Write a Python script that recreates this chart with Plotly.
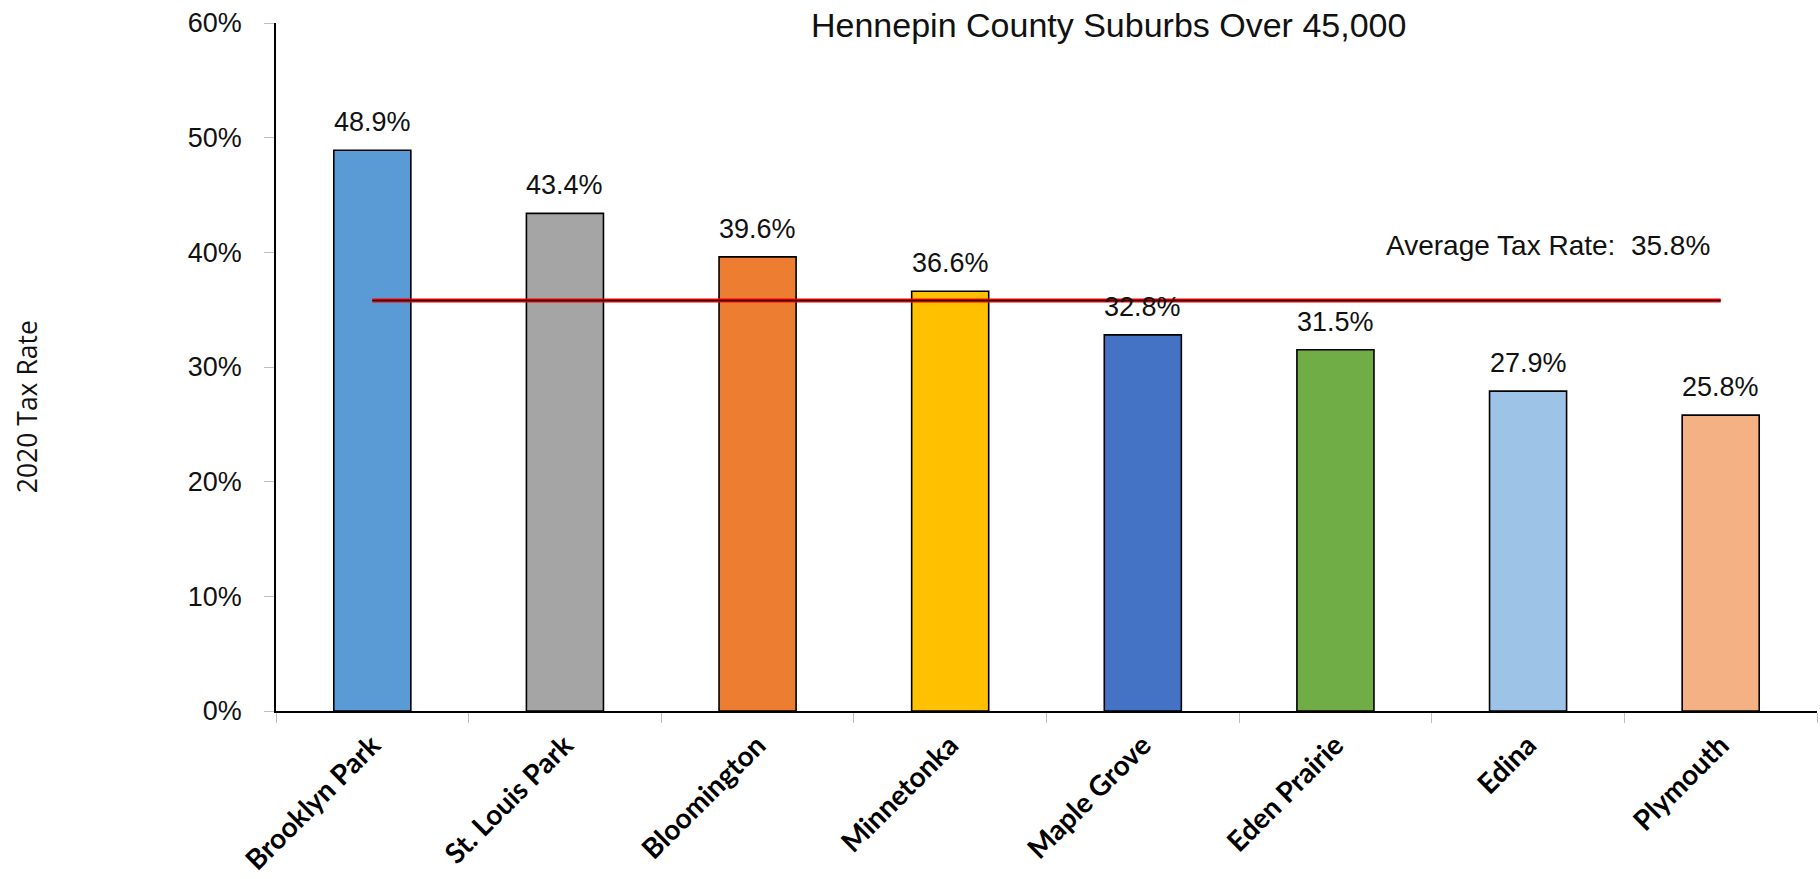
import plotly.graph_objects as go

cities = ["Brooklyn Park", "St. Louis Park", "Bloomington", "Minnetonka",
          "Maple Grove", "Eden Prairie", "Edina", "Plymouth"]
tax_rates = [48.9, 43.4, 39.6, 36.6, 32.8, 31.5, 27.9, 25.8]
bar_colors = ["#5B9BD5", "#A5A5A5", "#ED7D31", "#FFC000",
              "#4472C4", "#70AD47", "#9DC3E6", "#F4B183"]
average_rate = 35.8
y_ticks = [0, 10, 20, 30, 40, 50, 60]
y_tick_labels = ["0%", "10%", "20%", "30%", "40%", "50%", "60%"]

title_text = "Hennepin County Suburbs Over 45,000"
y_title = "2020 Tax Rate"
avg_label = "Average Tax Rate: \u00a035.8%"

FONT = "Liberation Sans"

fig = go.Figure()
fig.add_trace(go.Bar(
    x=cities, y=tax_rates,
    marker=dict(color=bar_colors, line=dict(color="black", width=1.6)),
    width=0.4, showlegend=False, hoverinfo="x+y",
))
# average line: red outer, dark core
fig.add_trace(go.Scatter(
    x=cities, y=[average_rate] * len(cities), mode="lines",
    line=dict(color="#FF0000", width=4), showlegend=False, hoverinfo="skip",
))
fig.add_trace(go.Scatter(
    x=cities, y=[average_rate] * len(cities), mode="lines",
    line=dict(color="#1a0000", width=1.6), showlegend=False, hoverinfo="skip",
))

annotations = []
for c, v in zip(cities, tax_rates):
    annotations.append(dict(
        x=c, y=v, xref="x", yref="y", text=f"{v:.1f}%", showarrow=False,
        yanchor="middle", yshift=28, font=dict(family=FONT, size=27, color="#111111"),
    ))
annotations.append(dict(
    x=5.25, y=40.6, xref="x", yref="y", text=avg_label, showarrow=False,
    xanchor="left", yanchor="middle", font=dict(family=FONT, size=28, color="#111111"),
))
annotations.append(dict(
    x=-0.1616, y=0.443, xref="paper", yref="paper", text=y_title, showarrow=False,
    textangle=-90, xanchor="center", yanchor="middle",
    font=dict(family="Open Sans", size=26.5, color="#111111"),
))
annotations.append(dict(
    x=0.540, y=1 + (23 - 25) / 688.0, xref="paper", yref="paper", text=title_text,
    showarrow=False, yanchor="middle", xanchor="center",
    font=dict(family=FONT, size=34, color="#111111"),
))

fig.update_layout(
    width=1820, height=879,
    margin=dict(l=276, r=3, t=23, b=168, autoexpand=False),
    paper_bgcolor="white", plot_bgcolor="white",
    annotations=annotations,
    bargap=0.6,
)
fig.update_xaxes(
    type="category", range=[-0.5, 7.5],
    showline=True, linecolor="black", linewidth=1.5,
    ticks="outside", tickson="boundaries", ticklen=10, tickcolor="#BFBFBF", tickwidth=1,
    ticklabelstandoff=5,
    tickangle=-45, tickfont=dict(family="Lato", size=28, color="black", weight="bold"),
    showgrid=False, zeroline=False,
)
fig.update_yaxes(
    range=[0, 60], tickvals=y_ticks, ticktext=y_tick_labels,
    showline=True, linecolor="black", linewidth=1.5,
    ticks="outside", ticklen=10, tickcolor="#BFBFBF", tickwidth=1,
    ticklabelstandoff=17,
    tickfont=dict(family=FONT, size=27, color="#111111"),
    showgrid=False, zeroline=False,
)

fig.write_html(
    "out.html",
    config={"displayModeBar": False},
    post_script="document.body.style.margin='0';document.body.style.overflow='hidden';",
)
